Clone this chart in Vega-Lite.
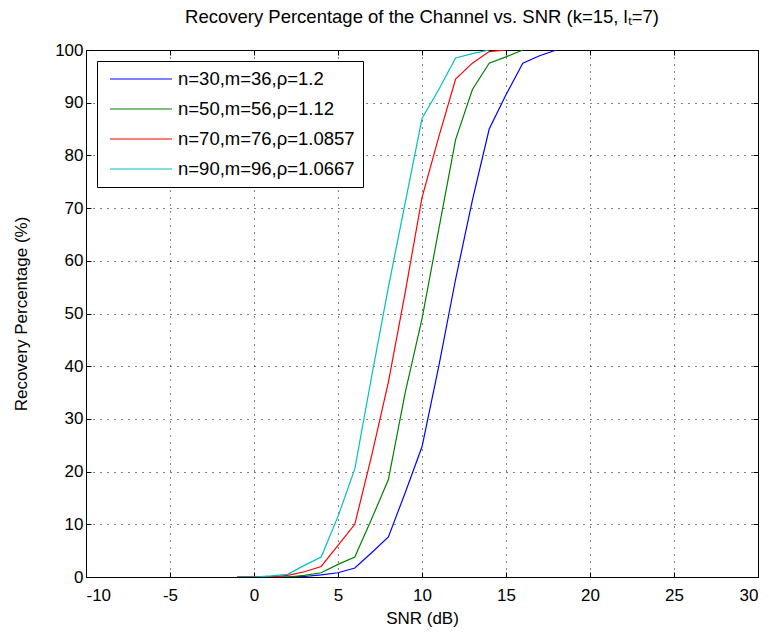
{
  "$schema": "https://vega.github.io/schema/vega-lite/v6.json",
  "width": 672,
  "height": 527,
  "autosize": "none",
  "padding": {"left": 86, "top": 50, "right": 11, "bottom": 60},
  "background": "white",
  "title": {"text": "Recovery Percentage of the Channel vs. SNR (k=15, lₜ=7)", "fontSize": 18.5, "fontWeight": "normal", "font": "Liberation Sans", "color": "black", "anchor": "middle", "offset": 15},
  "data": {"values": [
    {"snr": -1, "pct": 0, "series": "n=30,m=36,ρ=1.2"},
    {"snr": 0, "pct": 0, "series": "n=30,m=36,ρ=1.2"},
    {"snr": 1, "pct": 0, "series": "n=30,m=36,ρ=1.2"},
    {"snr": 2, "pct": 0, "series": "n=30,m=36,ρ=1.2"},
    {"snr": 3, "pct": 0.1, "series": "n=30,m=36,ρ=1.2"},
    {"snr": 4, "pct": 0.4, "series": "n=30,m=36,ρ=1.2"},
    {"snr": 5, "pct": 0.8, "series": "n=30,m=36,ρ=1.2"},
    {"snr": 6, "pct": 1.7, "series": "n=30,m=36,ρ=1.2"},
    {"snr": 7, "pct": 4.6, "series": "n=30,m=36,ρ=1.2"},
    {"snr": 8, "pct": 7.6, "series": "n=30,m=36,ρ=1.2"},
    {"snr": 9, "pct": 16, "series": "n=30,m=36,ρ=1.2"},
    {"snr": 10, "pct": 24.7, "series": "n=30,m=36,ρ=1.2"},
    {"snr": 11, "pct": 40, "series": "n=30,m=36,ρ=1.2"},
    {"snr": 12, "pct": 56.5, "series": "n=30,m=36,ρ=1.2"},
    {"snr": 13, "pct": 71.5, "series": "n=30,m=36,ρ=1.2"},
    {"snr": 14, "pct": 85, "series": "n=30,m=36,ρ=1.2"},
    {"snr": 15, "pct": 91.5, "series": "n=30,m=36,ρ=1.2"},
    {"snr": 16, "pct": 97.5, "series": "n=30,m=36,ρ=1.2"},
    {"snr": 17, "pct": 98.9, "series": "n=30,m=36,ρ=1.2"},
    {"snr": 18, "pct": 100, "series": "n=30,m=36,ρ=1.2"},
    {"snr": -1, "pct": 0, "series": "n=50,m=56,ρ=1.12"},
    {"snr": 0, "pct": 0, "series": "n=50,m=56,ρ=1.12"},
    {"snr": 1, "pct": 0, "series": "n=50,m=56,ρ=1.12"},
    {"snr": 2, "pct": 0, "series": "n=50,m=56,ρ=1.12"},
    {"snr": 3, "pct": 0.3, "series": "n=50,m=56,ρ=1.12"},
    {"snr": 4, "pct": 0.8, "series": "n=50,m=56,ρ=1.12"},
    {"snr": 5, "pct": 2.4, "series": "n=50,m=56,ρ=1.12"},
    {"snr": 6, "pct": 3.8, "series": "n=50,m=56,ρ=1.12"},
    {"snr": 7, "pct": 11, "series": "n=50,m=56,ρ=1.12"},
    {"snr": 8, "pct": 18.5, "series": "n=50,m=56,ρ=1.12"},
    {"snr": 9, "pct": 35, "series": "n=50,m=56,ρ=1.12"},
    {"snr": 10, "pct": 49, "series": "n=50,m=56,ρ=1.12"},
    {"snr": 11, "pct": 66, "series": "n=50,m=56,ρ=1.12"},
    {"snr": 12, "pct": 83, "series": "n=50,m=56,ρ=1.12"},
    {"snr": 13, "pct": 92.5, "series": "n=50,m=56,ρ=1.12"},
    {"snr": 14, "pct": 97.5, "series": "n=50,m=56,ρ=1.12"},
    {"snr": 15, "pct": 98.7, "series": "n=50,m=56,ρ=1.12"},
    {"snr": 16, "pct": 100, "series": "n=50,m=56,ρ=1.12"},
    {"snr": -1, "pct": 0, "series": "n=70,m=76,ρ=1.0857"},
    {"snr": 0, "pct": 0, "series": "n=70,m=76,ρ=1.0857"},
    {"snr": 1, "pct": 0, "series": "n=70,m=76,ρ=1.0857"},
    {"snr": 2, "pct": 0.3, "series": "n=70,m=76,ρ=1.0857"},
    {"snr": 3, "pct": 1, "series": "n=70,m=76,ρ=1.0857"},
    {"snr": 4, "pct": 2, "series": "n=70,m=76,ρ=1.0857"},
    {"snr": 5, "pct": 6, "series": "n=70,m=76,ρ=1.0857"},
    {"snr": 6, "pct": 10, "series": "n=70,m=76,ρ=1.0857"},
    {"snr": 7, "pct": 23, "series": "n=70,m=76,ρ=1.0857"},
    {"snr": 8, "pct": 37, "series": "n=70,m=76,ρ=1.0857"},
    {"snr": 9, "pct": 54, "series": "n=70,m=76,ρ=1.0857"},
    {"snr": 10, "pct": 72, "series": "n=70,m=76,ρ=1.0857"},
    {"snr": 11, "pct": 83.5, "series": "n=70,m=76,ρ=1.0857"},
    {"snr": 12, "pct": 94.5, "series": "n=70,m=76,ρ=1.0857"},
    {"snr": 13, "pct": 97.5, "series": "n=70,m=76,ρ=1.0857"},
    {"snr": 14, "pct": 99.7, "series": "n=70,m=76,ρ=1.0857"},
    {"snr": 15, "pct": 100, "series": "n=70,m=76,ρ=1.0857"},
    {"snr": -1, "pct": 0, "series": "n=90,m=96,ρ=1.0667"},
    {"snr": 0, "pct": 0, "series": "n=90,m=96,ρ=1.0667"},
    {"snr": 1, "pct": 0.2, "series": "n=90,m=96,ρ=1.0667"},
    {"snr": 2, "pct": 0.5, "series": "n=90,m=96,ρ=1.0667"},
    {"snr": 3, "pct": 2.2, "series": "n=90,m=96,ρ=1.0667"},
    {"snr": 4, "pct": 3.8, "series": "n=90,m=96,ρ=1.0667"},
    {"snr": 5, "pct": 11.5, "series": "n=90,m=96,ρ=1.0667"},
    {"snr": 6, "pct": 20.5, "series": "n=90,m=96,ρ=1.0667"},
    {"snr": 7, "pct": 38, "series": "n=90,m=96,ρ=1.0667"},
    {"snr": 8, "pct": 55, "series": "n=90,m=96,ρ=1.0667"},
    {"snr": 9, "pct": 71, "series": "n=90,m=96,ρ=1.0667"},
    {"snr": 10, "pct": 87, "series": "n=90,m=96,ρ=1.0667"},
    {"snr": 11, "pct": 92.5, "series": "n=90,m=96,ρ=1.0667"},
    {"snr": 12, "pct": 98.5, "series": "n=90,m=96,ρ=1.0667"},
    {"snr": 13, "pct": 99.3, "series": "n=90,m=96,ρ=1.0667"},
    {"snr": 14, "pct": 100, "series": "n=90,m=96,ρ=1.0667"}
  ]},
  "layer": [
    {
      "mark": {"type": "line", "strokeWidth": 1.2, "clip": true},
      "encoding": {
        "x": {"field": "snr", "type": "quantitative", "scale": {"domain": [-10, 30], "nice": false, "zero": false},
              "axis": {"orient": "bottom", "values": [-10, -5, 0, 5, 10, 15, 20, 25, 30], "title": "SNR (dB)", "grid": true, "labelPadding": 15, "titlePadding": 7, "labelExpr": "replace(datum.label, '−', '-')"}},
        "y": {"field": "pct", "type": "quantitative", "scale": {"domain": [0, 100], "nice": false},
              "axis": {"orient": "left", "values": [0, 10, 20, 30, 40, 50, 60, 70, 80, 90, 100], "title": "Recovery Percentage (%)", "grid": true, "labelPadding": 8, "titlePadding": 24}},
        "color": {"field": "series", "type": "nominal",
                  "scale": {"domain": ["n=30,m=36,ρ=1.2", "n=50,m=56,ρ=1.12", "n=70,m=76,ρ=1.0857", "n=90,m=96,ρ=1.0667"],
                            "range": ["#0000FF", "#008000", "#FF0000", "#00BFBF"]},
                  "legend": {"orient": "none", "legendX": 11, "legendY": 11, "title": null}}
      }
    },
    {
      "mark": {"type": "line", "strokeOpacity": 0},
      "encoding": {
        "x": {"field": "snr", "type": "quantitative", "axis": {"orient": "top", "values": [-10, -5, 0, 5, 10, 15, 20, 25, 30], "labels": false, "title": null, "grid": false}},
        "y": {"field": "pct", "type": "quantitative", "axis": {"orient": "right", "values": [0, 10, 20, 30, 40, 50, 60, 70, 80, 90, 100], "labels": false, "title": null, "grid": false}},
        "detail": {"field": "series"}
      }
    }
  ],
  "resolve": {"axis": {"x": "independent", "y": "independent"}},
  "config": {
    "view": {"stroke": "black", "strokeWidth": 1},
    "axis": {
      "domainColor": "black", "domainWidth": 1,
      "tickColor": "black", "tickSize": -5, "tickWidth": 1,
      "labelColor": "black", "labelFont": "Liberation Sans", "labelFontSize": 17,
      "titleColor": "black", "titleFont": "Liberation Sans", "titleFontSize": 17, "titleFontWeight": "normal",
      "gridColor": "black", "gridDash": [1, 6], "gridOpacity": 1, "gridWidth": 1
    },
    "legend": {
      "strokeColor": "black", "strokeWidth": 1, "fillColor": "white", "padding": 8,
      "symbolType": "stroke", "symbolSize": 3844, "symbolStrokeWidth": 1.2, "symbolOffset": 4,
      "clipHeight": 20,
      "labelFont": "Liberation Sans", "labelFontSize": 18.5, "labelColor": "black", "labelLimit": 400,
      "rowPadding": 10, "labelOffset": 5, "cornerRadius": 0
    }
  }
}
